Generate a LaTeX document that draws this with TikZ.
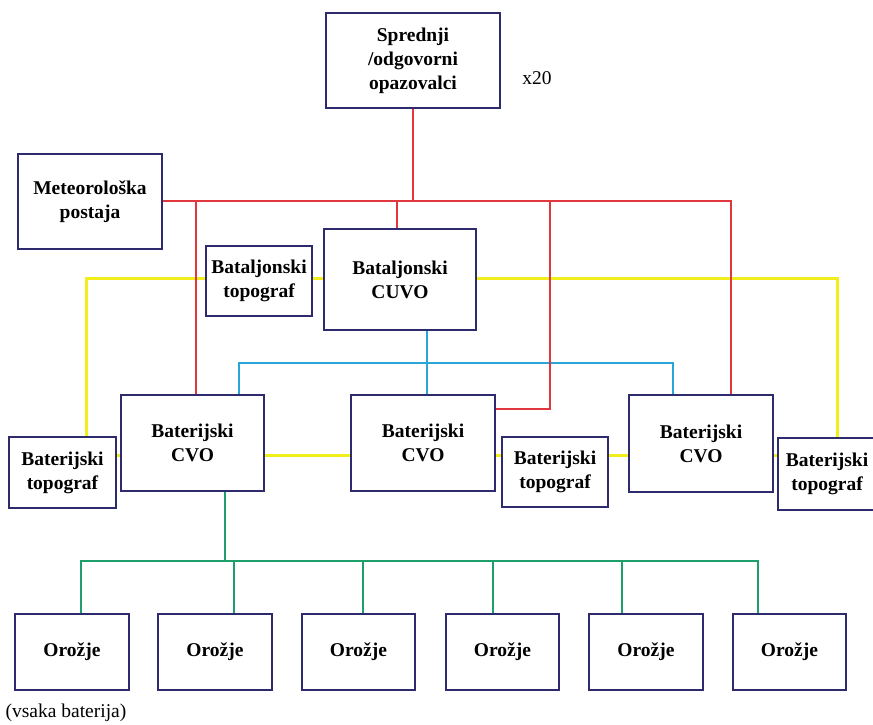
\documentclass[tikz,border=0pt]{standalone}
\usepackage{fontspec}
\setmainfont{Liberation Serif}
\definecolor{boxc}{HTML}{2E2A6E}
\definecolor{redl}{HTML}{E0363C}
\definecolor{yell}{HTML}{F2EE1C}
\definecolor{bluel}{HTML}{2AA5D8}
\definecolor{greenl}{HTML}{1E9E6A}
\begin{document}
\begin{tikzpicture}[x=1pt,y=-1pt,
  box/.style={draw=boxc, line width=2pt, fill=white, inner sep=0pt, align=center,
    font=\fontsize{19.5}{24}\selectfont\bfseries},
  plain/.style={inner sep=0pt, font=\fontsize{19.5}{24}\selectfont},
  rl/.style={draw=redl, line width=2pt},
  yl/.style={draw=yell, line width=3pt},
  bl/.style={draw=bluel, line width=2pt},
  gl/.style={draw=greenl, line width=2pt}]
\useasboundingbox[fill=white] (0,0) rectangle (873,724);

% boxes
\node[box, minimum width=174pt, minimum height=95pt] (top) at (413,60.5) {Sprednji\\/odgovorni\\opazovalci};
\node[box, minimum width=144pt, minimum height=95pt] (met) at (90,201.5) {Meteorološka\\postaja};
\node[box, minimum width=106pt, minimum height=70pt] (btopo) at (259,281) {Bataljonski\\topograf};
\node[box, minimum width=152pt, minimum height=101pt] (cuvo) at (400,279.5) {Bataljonski\\CUVO};
\node[box, minimum width=143pt, minimum height=96pt] (cvo1) at (192.5,443) {Baterijski\\CVO};
\node[box, minimum width=144pt, minimum height=96pt] (cvo2) at (423,443) {Baterijski\\CVO};
\node[box, minimum width=144pt, minimum height=97pt] (cvo3) at (701,443.5) {Baterijski\\CVO};
\node[box, minimum width=107pt, minimum height=71pt] (topo1) at (62.5,472.5) {Baterijski\\topograf};
\node[box, minimum width=106pt, minimum height=70pt] (topo2) at (555,472) {Baterijski\\topograf};
\node[box, minimum width=98pt, minimum height=72pt] (topo3) at (827,474) {Baterijski\\topograf};
\node[box, minimum width=114pt, minimum height=76pt] (or1) at (72,652) {Orožje};
\node[box, minimum width=114pt, minimum height=76pt] (or2) at (215,652) {Orožje};
\node[box, minimum width=113pt, minimum height=76pt] (or3) at (358.5,652) {Orožje};
\node[box, minimum width=113pt, minimum height=76pt] (or4) at (502.5,652) {Orožje};
\node[box, minimum width=114pt, minimum height=76pt] (or5) at (646,652) {Orožje};
\node[box, minimum width=113pt, minimum height=76pt] (or6) at (789.5,652) {Orožje};

\node[plain] (x20) at (537,78) {x20};
\node[plain] (vsaka) at (66,713) {(vsaka baterija)};

% junction coordinates
\coordinate (rbus) at (413,201);
\coordinate (r1) at (196,201);
\coordinate (r2) at (397,201);
\coordinate (r3) at (550,201);
\coordinate (r3b) at (550,409);
\coordinate (r4) at (731,201);
\coordinate (yl1) at (86,278);
\coordinate (yr1) at (837,278);
\coordinate (cy) at (0,455);
\coordinate (bbus) at (427,363);
\coordinate (b1) at (239,363);
\coordinate (b3) at (673,363);
\coordinate (gbus) at (225,561);
\coordinate (g1) at (81,561);
\coordinate (g2) at (234,561);
\coordinate (g3) at (363,561);
\coordinate (g4) at (493,561);
\coordinate (g5) at (622,561);
\coordinate (g6) at (758,561);

% yellow
\draw[yl] (btopo.west |- yl1) -- (yl1) -- (topo1.north -| yl1);
\draw[yl] (btopo.east |- yl1) -- (cuvo.west |- yl1);
\draw[yl] (cuvo.east |- yr1) -- (yr1) -- (topo3.north -| yr1);
\draw[yl] (topo1.east |- cy) -- (cvo1.west |- cy);
\draw[yl] (cvo1.east |- cy) -- (cvo2.west |- cy);
\draw[yl] (cvo2.east |- cy) -- (topo2.west |- cy);
\draw[yl] (topo2.east |- cy) -- (cvo3.west |- cy);
\draw[yl] (cvo3.east |- cy) -- (topo3.west |- cy);

% blue
\draw[bl] (cuvo.south -| bbus) -- (bbus) -- (cvo2.north -| bbus);
\draw[bl] (cvo1.north -| b1) -- (b1) -- (b3) -- (cvo3.north -| b3);

% red
\draw[rl] (top.south -| rbus) -- (rbus);
\draw[rl] (met.east |- r1) -- (r4) -- (cvo3.north -| r4);
\draw[rl] (r1) -- (cvo1.north -| r1);
\draw[rl] (r2) -- (cuvo.north -| r2);
\draw[rl] (r3) -- (r3b) -- (cvo2.east |- r3b);

% green
\draw[gl] (cvo1.south -| gbus) -- (gbus);
\draw[gl] (or1.north -| g1) -- (g1) -- (g6) -- (or6.north -| g6);
\draw[gl] (g2) -- (or2.north -| g2);
\draw[gl] (g3) -- (or3.north -| g3);
\draw[gl] (g4) -- (or4.north -| g4);
\draw[gl] (g5) -- (or5.north -| g5);
\end{tikzpicture}
\end{document}
